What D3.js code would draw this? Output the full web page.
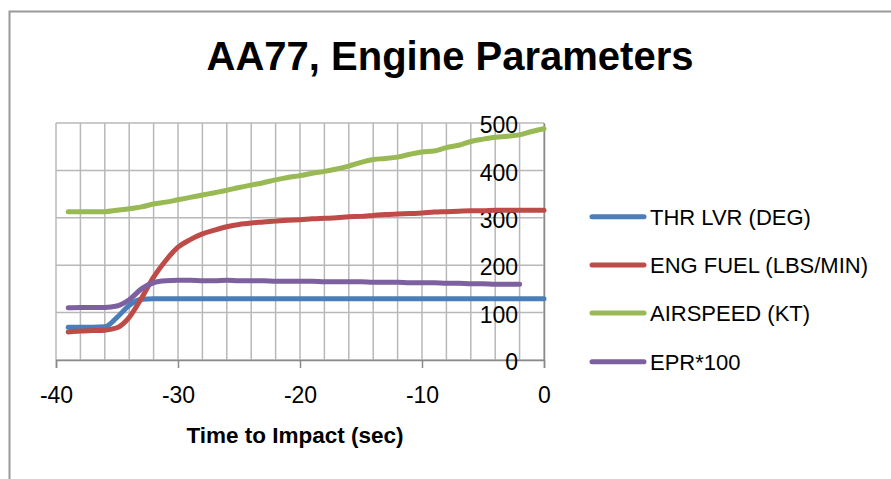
<!DOCTYPE html>
<html><head><meta charset="utf-8">
<script src="https://cdn.jsdelivr.net/npm/d3@7"></script>
<style>body{margin:0;background:#fff;}svg{display:block;}text{font-family:"Liberation Sans",Arial,sans-serif;fill:#000;}</style>
</head><body>
<svg id="c" width="891" height="479"></svg>
<script>
const times = d3.range(-39, 1);
const thrLvr = [69,69,69,70,90,115,128,129,129,129,129,129,129,129,129,129,129,129,129,129,129,129,129,129,129,129,129,129,129,129,129,129,129,129,129,129,129,129,129,129];
const engFuel = [59,61,62,63,68,90,130,175,210,238,254,266,274,281,286,289,291,293,295,296,298,299,300,302,303,305,307,308,309,310,312,313,314,315,315,316,316,316,316,316];
const airspeed = [313,313,313,313,316,319,323,329,333,338,343,348,353,358,364,369,374,380,385,389,394,398,403,409,417,423,425,428,434,439,441,448,453,461,466,470,472,475,482,488];
const epr100 = [110,111,111,111,114,127,150,163,167,168,168,167,167,168,167,167,167,166,166,166,166,165,165,165,165,164,164,164,163,163,163,162,162,161,161,160,160,160];
const seriesNames = ["THR LVR (DEG)","ENG FUEL (LBS/MIN)","AIRSPEED (KT)","EPR*100"];
const seriesColors = ["#4A7EBB","#BE4B48","#98B954","#7D60A0"];
const seriesData = [thrLvr, engFuel, airspeed, epr100];
const xTicks = [-40,-30,-20,-10,0];
const yTicks = [0,100,200,300,400,500];

const svg = d3.select("#c");
const L=56, R=544, T=123, B=360;
const x = d3.scaleLinear().domain([-40,0]).range([L,R]);
const y = d3.scaleLinear().domain([0,500]).range([B,T]);
const FONT = "'Liberation Sans',Arial,sans-serif";

// outer frame
svg.append("rect").attr("x",9.5).attr("y",11.5).attr("width",900).attr("height",500)
  .attr("fill","none").attr("stroke","#9a9a9a").attr("stroke-width",2);

// title
svg.append("text").attr("x",450).attr("y",70).attr("text-anchor","middle")
  .style("font-size","40px").style("font-weight","bold").text("AA77, Engine Parameters");

// gridlines
const g = svg.append("g");
g.selectAll("line.v").data(d3.range(-40,1,2)).join("line")
  .attr("x1",d=>x(d)).attr("x2",d=>x(d)).attr("y1",T).attr("y2",B)
  .attr("stroke","#b8b8b8").attr("stroke-width",1.5);
g.selectAll("line.h").data(yTicks).join("line")
  .attr("x1",L).attr("x2",R).attr("y1",d=>y(d)).attr("y2",d=>y(d))
  .attr("stroke","#b8b8b8").attr("stroke-width",1.5);

// x axis
const xa = svg.append("g").attr("transform",`translate(0,${B})`)
  .call(d3.axisBottom(x).tickValues(xTicks).tickSize(8).tickPadding(19).tickFormat(d=>String(d)));
xa.select(".domain").attr("stroke","#8a8a8a").attr("stroke-width",1.5);
xa.selectAll(".tick line").attr("stroke","#8a8a8a").attr("stroke-width",1.5);
xa.selectAll(".tick text").style("font-size","23px").style("font-family",FONT).attr("fill","#000");

// y axis (right side, labels to the left)
const ya = svg.append("g").attr("transform",`translate(${R},0)`)
  .call(d3.axisLeft(y).tickValues(yTicks).tickSize(0).tickPadding(26).tickFormat(d=>String(d)));
ya.select(".domain").attr("stroke","#8a8a8a").attr("stroke-width",1.5);
ya.selectAll(".tick text").style("font-size","23px").style("font-family",FONT).attr("fill","#000").attr("dy","0.42em");

// axis title
svg.append("text").attr("x",295).attr("y",443).attr("text-anchor","middle")
  .style("font-size","22.5px").style("font-weight","bold").text("Time to Impact (sec)");

// lines
const line = d3.line().x(d=>x(d[0])).y(d=>y(d[1])).curve(d3.curveMonotoneX);
seriesData.forEach((vals,i)=>{
  const pts = vals.map((v,j)=>[times[j],v]);
  svg.append("path").datum(pts).attr("d",line).attr("fill","none")
    .attr("stroke",seriesColors[i]).attr("stroke-width",5)
    .attr("stroke-linecap","round").attr("stroke-linejoin","round");
});

// legend
const rowY = [216.7,265,313,361.7];
seriesNames.forEach((n,i)=>{
  svg.append("line").attr("x1",592).attr("x2",644).attr("y1",rowY[i]).attr("y2",rowY[i])
    .attr("stroke",seriesColors[i]).attr("stroke-width",5).attr("stroke-linecap","round");
  svg.append("text").attr("x",650).attr("y",rowY[i]).attr("dy","0.36em")
    .style("font-size","22px").text(n);
});
</script>
</body></html>
